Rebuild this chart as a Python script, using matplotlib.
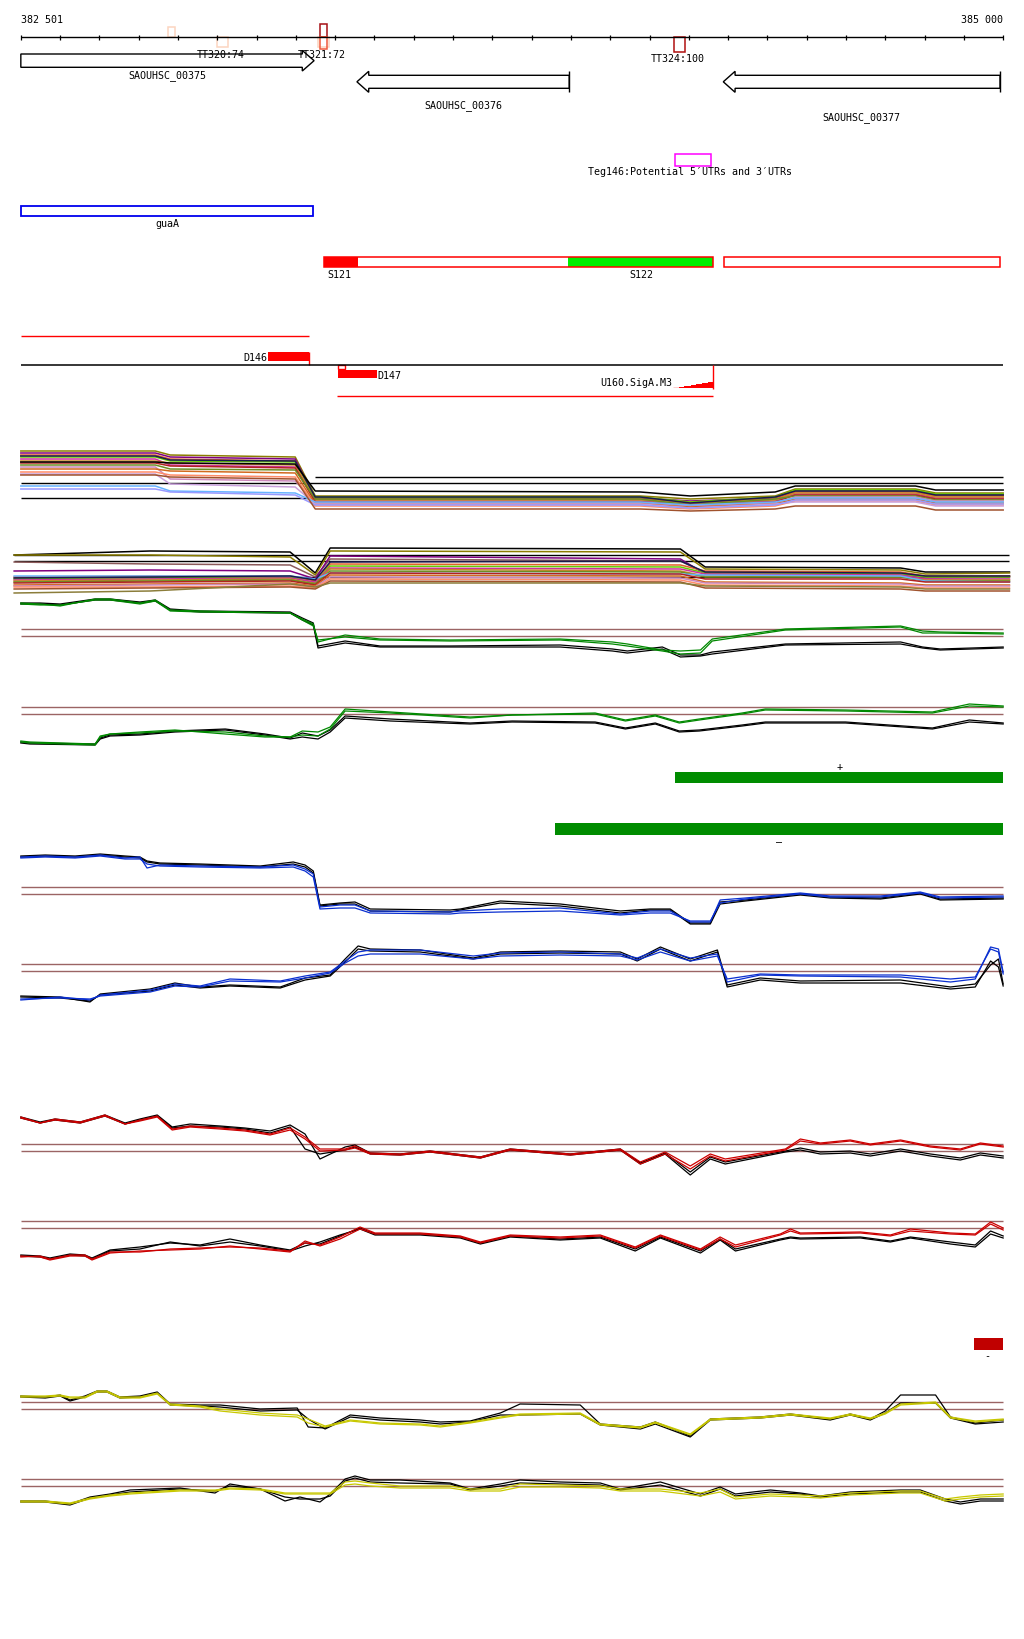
import numpy as np
import matplotlib
matplotlib.use('Agg')
import matplotlib.pyplot as plt
from matplotlib.patches import Rectangle, Polygon

plt.rcParams['font.family'] = ['DejaVu Sans Mono', 'DejaVu Sans']

# ---------------- data ----------------
view_start, view_end = 382501, 385000

# transcription terminators
tt_start = [382876, 383000, 383257, 383261, 383261, 384163]
tt_end = [382892, 383028, 383285, 383280, 383280, 384190]
tt_labels = ['TT320:74', 'TT321:72', 'TT324:100']
tt_label_pos = [383009, 383267, 384173]

# genes
gene_names = ['SAOUHSC_00375', 'SAOUHSC_00376', 'SAOUHSC_00377']
gene_start = [382501, 383356, 384288]
gene_end = [383247, 383896, 384992]
gene_strand = ['+', '-', '-']

teg_name = "Teg146:Potential 5\u2032UTRs and 3\u2032UTRs"
teg_start, teg_end = 384164, 384257

guaA_start, guaA_end = 382501, 383245

# transcribed segments
seg_box_start = [383273, 384289]
seg_box_end = [384263, 384992]
seg_fill_names = ['S121', 'S122']
seg_fill_start = [383273, 383894]
seg_fill_end = [383359, 384263]

# D146 / D147 / U160
d146_line = (382501, 383234)
d146_start, d146_end = 383130, 383235
d147_start, d147_end = 383308, 383408
d147_line = (383306, 384263)
u160_x = [384161, 384176, 384188, 384205, 384218, 384235, 384248, 384263]
u160_h = [0.7, 1.7, 2.3, 3.3, 4.3, 5.3, 6.3, 6.3]

# strand bars
strand_labels = ['+', '\u2013']
strand_start = [384166, 383861]
strand_end = [385000, 385000]
red_box = (384926, 385000)

# bundle 1 (many conditions, + strand)
b1_x = [382501, 382843, 382881, 383199, 383250, 384077, 384204, 384420, 384471, 384777, 384828, 385000]
b1_series = [
    [22, 22, 26, 28, 67, 67, 70, 67, 60, 60, 64, 64],
    [24, 24, 28, 30, 69, 69, 72, 69, 62, 62, 66, 66],
    [26, 26, 30, 32, 70, 70, 73, 70, 63, 63, 67, 67],
    [28, 28, 32, 33, 68, 68, 73, 68, 61, 61, 65, 65],
    [30, 30, 36, 38, 72, 72, 75, 72, 65, 65, 69, 69],
    [32, 32, 34, 36, 71, 71, 74, 71, 64, 64, 68, 68],
    [34, 34, 37, 39, 73, 73, 76, 73, 66, 66, 70, 70],
    [36, 36, 40, 41, 70, 70, 76, 70, 67, 67, 71, 71],
    [38, 38, 50, 52, 74, 74, 77, 74, 68, 68, 72, 72],
    [40, 40, 42, 44, 75, 75, 78, 75, 70, 70, 74, 74],
    [43, 43, 46, 48, 77, 77, 80, 77, 72, 72, 76, 76],
    [45, 45, 55, 58, 75, 75, 79, 75, 73, 73, 77, 77],
    [57, 57, 62, 64, 73, 73, 76, 73, 69, 69, 73, 73],
    [60, 60, 63, 66, 76, 76, 79, 76, 71, 71, 75, 75],
    [46, 46, 48, 50, 80, 80, 82, 80, 77, 77, 81, 81],
    [27, 27, 31, 32, 68, 68, 74, 68, 62, 62, 66, 66],
    [33, 33, 34, 35, 62, 63, 67, 63, 57, 57, 61, 61],
]
b1_refs = [(48.3, 383250, 385000), (54.3, 382501, 385000), (69.3, 382501, 383252)]

# bundle 2 (many conditions, - strand)
b2_x = [382484, 382830, 383186, 383250, 383288, 384179, 384242, 384739, 384802, 385016]
b2_series = [
    [26, 22, 23, 44, 19, 20, 38, 39, 43, 43],
    [26, 26, 28, 46, 22, 23, 40, 41, 45, 44],
    [33, 35, 36, 48, 30, 32, 44, 45, 48, 47],
    [42, 41, 42, 50, 27, 30, 45, 46, 49, 48],
    [48, 47, 47, 52, 35, 36, 42, 43, 47, 47],
    [50, 49, 48, 54, 37, 38, 44, 45, 48, 48],
    [51, 50, 49, 53, 39, 40, 45, 46, 50, 50],
    [52, 51, 50, 55, 40, 42, 47, 48, 51, 51],
    [53, 52, 51, 55, 42, 43, 48, 48, 52, 52],
    [47, 47, 47, 50, 44, 45, 46, 47, 52, 53],
    [54, 53, 52, 56, 44, 45, 50, 50, 53, 53],
    [56, 55, 54, 57, 46, 47, 53, 54, 56, 56],
    [57, 56, 55, 58, 48, 49, 54, 55, 57, 57],
    [58, 58, 57, 59, 50, 51, 56, 57, 59, 59],
    [60, 59, 58, 60, 52, 53, 59, 60, 62, 62],
    [64, 62, 55, 58, 54, 54, 57, 58, 60, 60],
    [49, 48, 47, 51, 33, 32, 43, 44, 47, 47],
]
b2_refs = [(25.7, 382484, 385016), (32.3, 382484, 385016), (47.7, 382484, 385016)]

bundle_colors = ['#8b7d00', '#800080', '#e0602a', '#66cc00', '#cc3399', '#c8862a',
                 '#b22222', '#6b8e23', '#cc88bb', '#d2691e', '#ff8c69', '#c9a0dc',
                 '#66b3ff', '#9999ff', '#a0522d', '#1a1a4e', '#000000']
bundle2_colors = ['#000000', '#8b7d00', '#8b5a5a', '#800080', '#e0602a', '#66cc00',
                  '#cc3399', '#c8862a', '#6b8e23', '#66b3ff', '#b22222', '#d2691e',
                  '#cc88bb', '#ff8c69', '#a0522d', '#8b7d3a', '#1a1a4e']

# green condition
g1_x = [382501, 382550, 382601, 382690, 382728, 382804, 382843, 382881, 382957, 383186,
        383217, 383245, 383257, 383326, 383415, 383593, 383873, 384006, 384044, 384133,
        384179, 384230, 384260, 384446, 384739, 384795, 384840, 385000]
g1_green_a = [14, 15, 17, 10, 10, 14, 11, 21, 22, 24, 30, 35, 53, 46, 50, 51, 50, 53, 55, 61, 62, 61, 50, 40, 37, 42, 43, 44]
g1_green_b = [15, 16, 16, 11, 11, 15, 12, 22, 23, 24, 31, 37, 51, 48, 51, 52, 51, 55, 57, 62, 65, 64, 52, 41, 38, 44, 44, 45]
g1_black_a = [14, 14, 15, 10, 10, 13, 11, 20, 22, 23, 29, 34, 57, 52, 57, 57, 56, 60, 62, 58, 66, 66, 63, 55, 53, 58, 60, 58]
g1_black_b = [15, 15, 16, 11, 11, 14, 12, 21, 23, 24, 31, 36, 59, 54, 58, 58, 58, 62, 64, 60, 68, 67, 65, 56, 55, 59, 61, 59]
g1_refs = [40.3, 47.3]

g2_x = [382501, 382524, 382690, 382703, 382728, 382804, 382893, 383021, 383122, 383186,
        383217, 383257, 383288, 383326, 383441, 383644, 383751, 383962, 384039, 384115,
        384176, 384227, 384336, 384395, 384599, 384820, 384914, 385000]
g2_green_a = [53, 54, 56, 48, 45, 44, 42, 43, 47, 48, 42, 43, 38, 20, 23, 28, 26, 24, 31, 26, 33, 30, 24, 20, 21, 23, 15, 17]
g2_green_b = [52, 53, 55, 47, 45, 43, 41, 45, 48, 48, 46, 47, 40, 22, 24, 29, 26, 25, 32, 27, 34, 31, 25, 21, 22, 24, 17, 18]
g2_black_a = [53, 54, 55, 49, 46, 45, 42, 40, 45, 49, 44, 47, 41, 27, 30, 34, 32, 33, 39, 34, 42, 41, 36, 33, 33, 39, 31, 34]
g2_black_b = [54, 55, 56, 50, 47, 46, 43, 41, 46, 50, 48, 50, 43, 29, 32, 35, 33, 34, 40, 35, 43, 42, 37, 34, 34, 40, 33, 35]
g2_refs = [18.3, 25.3]

# blue condition
bl1_x = [382501, 382563, 382639, 382703, 382766, 382804, 382822, 382855, 382957, 383110,
         383194, 383224, 383245, 383262, 383313, 383351, 383390, 383593, 383619, 383721,
         383873, 384026, 384102, 384153, 384204, 384255, 384280, 384344, 384484, 384560,
         384688, 384789, 384840, 385000]
bl1_blue_a = [18, 17, 18, 16, 19, 18, 29, 26, 27, 28, 26, 30, 35, 68, 66, 66, 72, 73, 72, 70, 69, 75, 72, 72, 83, 83, 61, 59, 54, 57, 57, 53, 58, 57]
bl1_blue_b = [19, 18, 19, 17, 20, 20, 25, 27, 28, 29, 28, 32, 38, 70, 69, 69, 74, 75, 74, 73, 72, 76, 74, 74, 82, 82, 64, 60, 55, 58, 58, 54, 59, 58]
bl1_black_a = [17, 16, 17, 15, 17, 18, 22, 24, 25, 27, 23, 26, 32, 66, 64, 63, 70, 71, 70, 62, 65, 72, 70, 70, 84, 84, 63, 61, 55, 58, 59, 54, 60, 59]
bl1_black_b = [18, 17, 18, 16, 18, 19, 23, 25, 26, 28, 25, 28, 34, 67, 65, 65, 72, 73, 71, 64, 67, 74, 71, 71, 85, 85, 65, 62, 56, 59, 60, 55, 61, 60]
bl1_refs = [48.3, 55.0]

bl2_x = [382501, 382601, 382677, 382703, 382830, 382893, 382957, 383033, 383161, 383224,
         383288, 383326, 383359, 383390, 383517, 383652, 383721, 383873, 384026, 384069,
         384128, 384204, 384273, 384298, 384382, 384484, 384739, 384866, 384929, 384968,
         384988, 385000]
bl2_blue_a = [61, 58, 61, 56, 51, 45, 47, 40, 42, 37, 33, 22, 13, 11, 11, 17, 14, 13, 15, 19, 10, 19, 15, 43, 36, 37, 38, 43, 40, 8, 10, 33]
bl2_blue_b = [60, 59, 60, 57, 53, 47, 48, 42, 43, 39, 34, 24, 17, 15, 15, 20, 17, 16, 17, 21, 13, 22, 17, 40, 35, 36, 36, 40, 38, 10, 13, 35]
bl2_black_a = [57, 58, 63, 55, 50, 44, 48, 46, 48, 39, 36, 20, 7, 10, 11, 19, 13, 12, 13, 20, 8, 20, 11, 46, 39, 42, 41, 48, 45, 26, 20, 45]
bl2_black_b = [58, 59, 62, 56, 52, 46, 49, 47, 49, 41, 37, 23, 10, 12, 13, 20, 15, 14, 15, 22, 10, 22, 13, 48, 41, 44, 44, 50, 48, 22, 28, 47]
bl2_refs = [25.3, 32.3]

# red condition
r1_x = [382501, 382550, 382588, 382652, 382715, 382766, 382804, 382848, 382886, 382932,
        383008, 383071, 383135, 383186, 383224, 383262, 383326, 383351, 383390, 383466,
        383542, 383670, 383746, 383899, 384026, 384077, 384140, 384204, 384255, 384293,
        384446, 384484, 384535, 384611, 384662, 384739, 384815, 384891, 384942, 385000]
r1_red_a = [18, 24, 20, 23, 16, 25, 21, 17, 30, 27, 29, 31, 35, 29, 38, 50, 50, 47, 54, 55, 52, 58, 50, 55, 50, 63, 53, 67, 55, 60, 50, 40, 44, 41, 45, 41, 47, 50, 44, 47]
r1_red_b = [19, 24, 21, 24, 17, 25, 22, 18, 31, 28, 30, 32, 36, 31, 40, 52, 51, 49, 55, 56, 53, 59, 51, 56, 51, 65, 55, 70, 57, 62, 51, 42, 45, 42, 46, 42, 48, 51, 45, 48]
r1_black_a = [18, 23, 20, 23, 16, 24, 20, 16, 28, 25, 27, 29, 32, 26, 35, 60, 48, 46, 54, 55, 52, 58, 50, 55, 50, 64, 54, 73, 58, 63, 52, 49, 53, 52, 55, 50, 55, 59, 54, 57]
r1_black_b = [19, 24, 21, 24, 17, 25, 21, 17, 29, 27, 28, 30, 34, 28, 50, 55, 51, 48, 55, 56, 53, 59, 51, 56, 51, 65, 55, 76, 60, 65, 53, 51, 55, 54, 57, 52, 57, 61, 56, 59]
r1_refs = [45.0, 52.3]

r2_x = [382501, 382550, 382575, 382626, 382664, 382682, 382728, 382804, 382881, 382957,
        383033, 383110, 383186, 383224, 383262, 383313, 383364, 383402, 383517, 383619,
        383670, 383746, 383873, 383975, 384064, 384128, 384230, 384280, 384319, 384433,
        384459, 384484, 384637, 384713, 384764, 384866, 384929, 384968, 385000]
r2_red_a = [58, 57, 60, 56, 56, 60, 53, 53, 50, 49, 48, 49, 52, 44, 46, 38, 28, 34, 34, 37, 43, 36, 38, 36, 48, 36, 50, 38, 46, 35, 30, 34, 33, 36, 30, 34, 35, 23, 29]
r2_red_b = [57, 58, 61, 57, 57, 61, 54, 52, 51, 50, 47, 50, 53, 42, 47, 40, 30, 35, 35, 38, 44, 37, 39, 37, 49, 37, 51, 40, 48, 36, 32, 35, 34, 37, 32, 35, 36, 25, 31]
r2_black_a = [56, 57, 59, 55, 56, 59, 51, 48, 44, 46, 40, 46, 51, 44, 45, 37, 29, 35, 35, 38, 44, 37, 40, 38, 50, 38, 52, 40, 50, 40, 38, 39, 38, 42, 38, 43, 46, 32, 37]
r2_black_b = [57, 58, 60, 56, 57, 60, 52, 50, 43, 47, 43, 47, 52, 47, 43, 36, 30, 36, 36, 39, 45, 38, 41, 39, 52, 39, 54, 41, 52, 41, 39, 40, 39, 43, 39, 45, 48, 35, 39]
r2_refs = [22.3, 29.3]

# yellow condition
y1_x = [382501, 382563, 382601, 382626, 382664, 382695, 382720, 382753, 382804, 382848,
        382881, 382957, 383008, 383110, 383204, 383232, 383275, 383339, 383415, 383517,
        383568, 383644, 383721, 383771, 383924, 383975, 384077, 384115, 384204, 384255,
        384382, 384459, 384560, 384611, 384662, 384700, 384739, 384828, 384866, 384929, 385000]
y1_yel_a = [17, 17, 16, 18, 18, 12, 12, 18, 18, 14, 25, 27, 30, 34, 36, 40, 47, 41, 44, 45, 47, 43, 38, 35, 34, 45, 48, 43, 55, 40, 38, 35, 39, 35, 39, 34, 25, 23, 38, 42, 40]
y1_yel_b = [18, 18, 17, 19, 19, 13, 13, 19, 19, 15, 26, 28, 32, 36, 38, 44, 48, 42, 45, 46, 48, 44, 39, 36, 35, 46, 49, 44, 56, 41, 39, 36, 40, 36, 40, 35, 26, 24, 39, 43, 41]
y1_black_a = [17, 18, 16, 21, 17, 12, 12, 18, 17, 13, 25, 26, 26, 30, 29, 48, 49, 36, 39, 41, 43, 42, 34, 25, 26, 45, 48, 43, 57, 40, 38, 35, 40, 35, 40, 32, 16, 16, 38, 44, 41]
y1_black_b = [18, 19, 17, 22, 18, 13, 13, 19, 18, 14, 26, 27, 28, 32, 31, 40, 50, 38, 41, 43, 45, 43, 36, 36, 35, 46, 50, 45, 58, 41, 39, 36, 41, 36, 41, 34, 24, 24, 39, 45, 43]
y1_refs = [23.3, 30.3]

y2_x = [382501, 382563, 382626, 382677, 382728, 382779, 382906, 382995, 383033, 383110,
        383173, 383211, 383262, 383288, 383326, 383351, 383390, 383466, 383593, 383644,
        383721, 383771, 383873, 383975, 384026, 384128, 384230, 384280, 384319, 384408,
        384484, 384535, 384611, 384739, 384789, 384853, 384891, 384942, 385000]
y2_yel_a = [42, 42, 44, 39, 36, 34, 31, 31, 29, 30, 34, 34, 34, 34, 23, 22, 24, 27, 27, 30, 30, 25, 26, 27, 30, 30, 34, 30, 38, 35, 36, 37, 34, 32, 32, 40, 38, 36, 35]
y2_yel_b = [43, 43, 45, 40, 37, 35, 32, 32, 30, 31, 35, 35, 35, 35, 26, 25, 27, 29, 29, 32, 32, 28, 28, 29, 32, 32, 37, 33, 40, 37, 38, 39, 36, 34, 34, 42, 40, 38, 37]
y2_black_a = [42, 42, 45, 38, 35, 31, 29, 34, 25, 30, 42, 38, 43, 35, 20, 17, 21, 21, 24, 30, 25, 21, 23, 24, 30, 23, 35, 28, 35, 31, 34, 37, 33, 31, 31, 40, 43, 40, 40]
y2_black_b = [43, 43, 46, 39, 36, 33, 30, 32, 27, 30, 38, 40, 40, 37, 22, 19, 23, 24, 25, 31, 27, 24, 25, 26, 31, 26, 37, 30, 37, 33, 35, 38, 35, 33, 33, 42, 45, 42, 42]
y2_refs = [20.3, 27.3]

# ---------------- layout / style ----------------
W, H = 1024, 1640
X_LEFT, X_RIGHT = 382448, 385053
FS = 7.2
REF_COLOR = '#9b6464'

fig = plt.figure(figsize=(W / 100, H / 100), dpi=100)
fig.patch.set_facecolor('white')
ax = fig.add_axes([0, 0, 1, 1])
ax.set_xlim(X_LEFT, X_RIGHT)
ax.set_ylim(H, 0)
ax.axis('off')


def track_axes(top, height, invert=True):
    t = fig.add_axes([0, 1 - (top + height) / H, 1, height / H])
    t.set_xlim(X_LEFT, X_RIGHT)
    if invert:
        t.set_ylim(height, 0)
    else:
        t.set_ylim(0, height)
    t.axis('off')
    t.patch.set_alpha(0)
    return t


def label(x, y, s, ha='center', **kw):
    ax.text(x, y, s, fontsize=FS, ha=ha, va='center', color='black', **kw)


# ruler
ax.hlines(38, view_start, view_end, color='black', lw=1)
ax.vlines(np.linspace(view_start, view_end, 26), 36.3, 40.5, color='black', lw=0.9)
label(view_start, 20, '382 501', ha='left')
label(view_end, 20, '385 000', ha='right')

# terminators
tt_y = [(28, 38), (38, 48), (38, 48), (25, 38), (38, 50), (38, 52.7)]
tt_col = ['#fcd5c0', '#fcd5c0', '#fcd5c0', '#a50f15', '#ef5a3c', '#b01010']
for s, e, (y0, y1), c in zip(tt_start, tt_end, tt_y, tt_col):
    ax.add_patch(Rectangle((s, y0), e - s, y1 - y0, fill=False, ec=c, lw=1.1))
for name, x, y in zip(tt_labels, tt_label_pos, [55, 55, 59]):
    label(x, y, name)

# genes
gene_rows = [(55, 68.3, 51.5, 72), (76.3, 89.3, 72.3, 93.3), (76.3, 89.3, 72.3, 93.3)]
gene_label_y = [76, 106, 118]
head = 30
for name, s, e, st, (y0, y1, h0, h1), ly in zip(gene_names, gene_start, gene_end,
                                                gene_strand, gene_rows, gene_label_y):
    ym = (y0 + y1) / 2
    if st == '+':
        hb = e - head
        pts = [(s, y0), (hb, y0), (hb, h0), (e, ym), (hb, h1), (hb, y1), (s, y1)]
    else:
        hb = s + head
        pts = [(e, y0), (hb, y0), (hb, h0), (s, ym), (hb, h1), (hb, y1), (e, y1)]
        ax.vlines(e, h0, h1, color='black', lw=1)
    ax.add_patch(Polygon(pts, closed=True, fill=False, ec='black', lw=1, joinstyle='miter'))
    label((s + e) / 2, ly, name)

# Teg146
ax.add_patch(Rectangle((teg_start, 155), teg_end - teg_start, 11.7, fill=False, ec='#ff00ff', lw=1.1))
label(384204, 172.3, teg_name)

# guaA
ax.add_patch(Rectangle((guaA_start, 207.3), guaA_end - guaA_start, 10, fill=False, ec='#0000ee', lw=1.3))
label((guaA_start + guaA_end) / 2, 224.3, 'guaA')

# segments
for s, e, c in zip(seg_fill_start, seg_fill_end, ['#ff0000', '#00ee00']):
    ax.add_patch(Rectangle((s, 258.3), e - s, 10, fc=c, ec='none'))
for s, e in zip(seg_box_start, seg_box_end):
    ax.add_patch(Rectangle((s, 258.3), e - s, 10, fill=False, ec='#ff0000', lw=1.1))
label(seg_fill_start[0] + 8, 275, seg_fill_names[0], ha='left')
label((seg_fill_start[1] + seg_fill_end[1]) / 2, 275, seg_fill_names[1])

# D146 / D147 / U160
ax.hlines(336.7, d146_line[0], d146_line[1], color='#ff0000', lw=1)
ax.add_patch(Rectangle((d146_start, 353.3), d146_end - d146_start, 8.4, fc='#ff0000', ec='none'))
ax.vlines(d146_end, 353.3, 366, color='#ff0000', lw=1)
label(d146_start - 2, 358, 'D146', ha='right')
ax.hlines(366, view_start, view_end, color='black', lw=1.1)
ax.add_patch(Rectangle((d147_start, 366), 17, 4, fill=False, ec='#ff0000', lw=1))
ax.add_patch(Rectangle((d147_start, 371), d147_end - d147_start, 8.3, fc='#ff0000', ec='none'))
label(d147_end, 376, 'D147', ha='left')
ax.hlines(397.3, d147_line[0], d147_line[1], color='#ff0000', lw=1)
ax.vlines(u160_x[-1], 366, 389.7, color='#ff0000', lw=1)
label(u160_x[0] - 4, 383.3, 'U160.SigA.M3', ha='right')
tu = track_axes(379.3, 10, invert=False)
tu.fill_between(u160_x, 0, u160_h, step='post', color='#ff0000', lw=0)
tu.hlines(0, u160_x[0], u160_x[-1], color='#ff0000', lw=1)


def draw_track(top, xs, series, colors, refs, lw=0.9):
    t = track_axes(top, 100)
    for r in refs:
        if isinstance(r, tuple):
            t.hlines(r[0], r[1], r[2], color='black', lw=1)
        else:
            t.hlines(r, view_start, view_end, color=REF_COLOR, lw=1)
    for ys, c in zip(series, colors):
        t.plot(xs, ys, color=c, lw=lw)
    return t


draw_track(430, b1_x, b1_series, bundle_colors, b1_refs, lw=1.1)
draw_track(530, b2_x, b2_series, bundle2_colors, b2_refs, lw=1.1)

GREEN, BLUE, RED, YEL = '#008800', '#0a2fd0', '#cc0000', '#c8c800'
draw_track(590, g1_x, [g1_black_a, g1_black_b, g1_green_a, g1_green_b], ['k', 'k', GREEN, GREEN], g1_refs)
draw_track(690, g2_x, [g2_black_a, g2_black_b, g2_green_a, g2_green_b], ['k', 'k', GREEN, GREEN], g2_refs)
draw_track(840, bl1_x, [bl1_black_a, bl1_black_b, bl1_blue_a, bl1_blue_b], ['k', 'k', BLUE, BLUE], bl1_refs)
draw_track(940, bl2_x, [bl2_black_a, bl2_black_b, bl2_blue_a, bl2_blue_b], ['k', 'k', BLUE, BLUE], bl2_refs)
draw_track(1100, r1_x, [r1_black_a, r1_black_b, r1_red_a, r1_red_b], ['k', 'k', RED, RED], r1_refs)
draw_track(1200, r2_x, [r2_black_a, r2_black_b, r2_red_a, r2_red_b], ['k', 'k', RED, RED], r2_refs)
draw_track(1380, y1_x, [y1_black_a, y1_black_b, y1_yel_a, y1_yel_b], ['k', 'k', YEL, YEL], y1_refs)
draw_track(1460, y2_x, [y2_black_a, y2_black_b, y2_yel_a, y2_yel_b], ['k', 'k', YEL, YEL], y2_refs)

# strand bars
for s, e, lab, (y0, y1), ly in zip(strand_start, strand_end, strand_labels,
                                   [(773.3, 783.7), (824, 835.7)], [767, 842]):
    ax.add_patch(Rectangle((s, y0), e - s, y1 - y0, fc='#008c00', ec='none'))
    label((s + e) / 2 if lab == '+' else 384429, ly, lab)
ax.add_patch(Rectangle((red_box[0], 1339), red_box[1] - red_box[0], 11.7, fc='#c00000', ec='none'))
label(384960, 1356, '-')

fig.savefig('out.png', dpi=100, facecolor='white')
